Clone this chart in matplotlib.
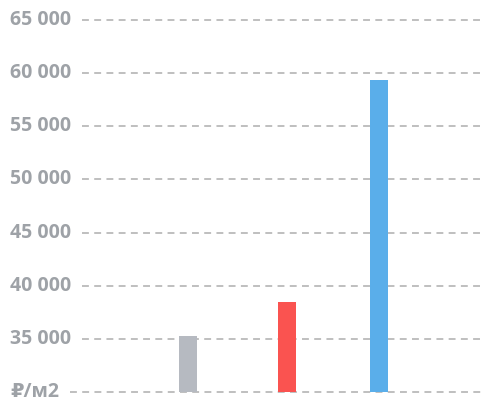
import matplotlib
matplotlib.use("Agg")
import matplotlib.pyplot as plt
import matplotlib.transforms as mtransforms

# данные
positions = [0, 1, 1.93]
values = [35280, 38490, 59350]
colors = ['#b6bac1', '#fa5350', '#5aaeea']
ticks = [30000, 35000, 40000, 45000, 50000, 55000, 60000, 65000]
tick_labels = ['₽/м2', '35 000', '40 000', '45 000', '50 000', '55 000', '60 000', '65 000']

W, H = 484, 397
fig = plt.figure(figsize=(W / 100, H / 100), dpi=100)
ax = fig.add_axes([0, (H - 392) / H, 1, (392 - 20) / H])
ax.set_xlim(-188 / 99, (W - 188) / 99)
ax.set_ylim(30000, 65000)
ax.axis('off')

ax.bar(positions, values, width=0.19, bottom=0, color=colors, zorder=3)
ax.set_ylim(30000, 65000)

trans = mtransforms.blended_transform_factory(fig.transFigure, ax.transData)
renderer = fig.canvas.get_renderer()
for t, lab in zip(ticks, tick_labels):
    txt = ax.text(10 / W, t, lab, transform=trans, ha='left', va='center',
                  fontsize=14, fontweight='bold', color='#9ea2a7',
                  family=['Open Sans', 'DejaVu Sans'])
    bb = txt.get_window_extent(renderer=renderer)
    x0 = (bb.x1 + 11) / W
    ax.plot([x0, 1], [t, t], transform=trans, color='#adadad', lw=1.1,
            dashes=(4.5, 3.5), zorder=1, clip_on=False)

fig.savefig('out.png', dpi=100)
